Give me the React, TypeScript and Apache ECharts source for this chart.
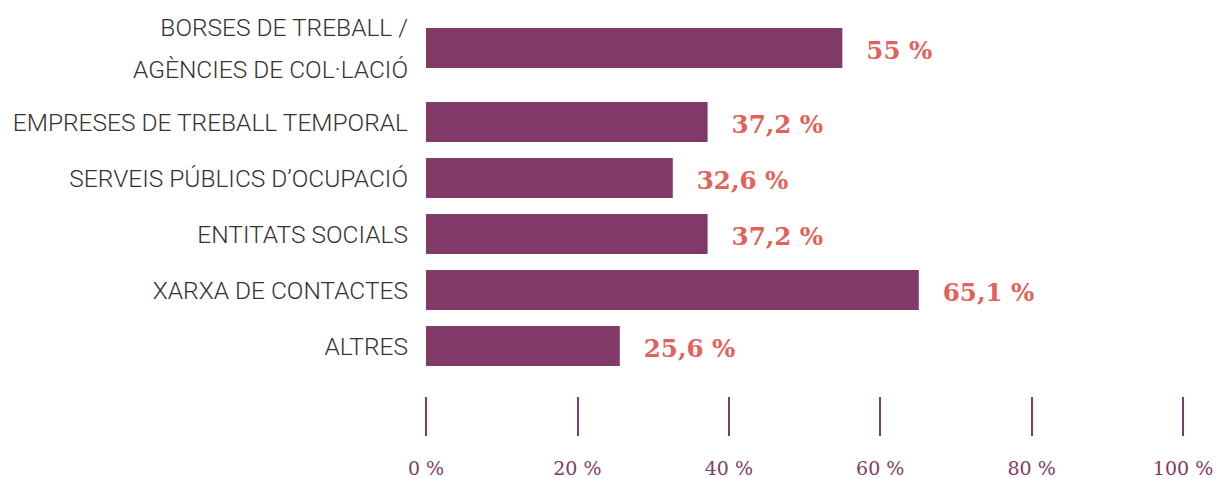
import React, { useEffect, useRef } from "react";
import * as echarts from "echarts";

const firstCategory = ["BORSES DE TREBALL /\nAGÈNCIES DE COL·LACIÓ"];
const firstValue = [55];
const categories = [
  "EMPRESES DE TREBALL TEMPORAL",
  "SERVEIS PÚBLICS D’OCUPACIÓ",
  "ENTITATS SOCIALS",
  "XARXA DE CONTACTES",
  "ALTRES",
];
const values = [37.2, 32.6, 37.2, 65.1, 25.6];
const axisMin = 0;
const axisMax = 100;
const axisStep = 20;

const BAR = "#823A68";
const LABEL = "#E2625B";
const TEXT = "#333333";
const fmt = (v: number) => String(v).replace(".", ",") + " %";

export default function App() {
  const ref = useRef<HTMLDivElement>(null);
  useEffect(() => {
    if (!ref.current) return;
    const chart = echarts.init(ref.current, undefined, { renderer: "svg" });
    const catLabel = {
      color: TEXT,
      fontFamily: "Roboto, 'Noto Sans', sans-serif",
      fontWeight: 300 as any,
      fontSize: 24.5,
      lineHeight: 42,
      margin: 18,
    };
    const valLabel = {
      show: true,
      position: "right" as const,
      distance: 24,
      offset: [0, 2],
      color: LABEL,
      fontFamily: "Georgia, 'DejaVu Serif', serif",
      fontWeight: "bold" as const,
      fontSize: 24.5,
      formatter: (p: any) => fmt(p.value),
    };
    chart.setOption({
      animation: false,
      grid: [
        { left: 426, width: 757, top: 20, height: 56 },
        { left: 426, width: 757, top: 94, height: 280 },
      ],
      xAxis: [
        { gridIndex: 0, type: "value", min: axisMin, max: axisMax, show: false },
        {
          gridIndex: 1,
          type: "value",
          min: axisMin,
          max: axisMax,
          interval: axisStep,
          offset: 23,
          axisLine: { show: false },
          splitLine: { show: false },
          axisTick: { show: true, length: 39, lineStyle: { color: BAR, width: 2 } },
          axisLabel: {
            margin: 61,
            color: BAR,
            fontFamily: "Georgia, 'DejaVu Serif', serif",
            fontSize: 19,
            formatter: (v: number) => v + " %",
          },
        },
      ],
      yAxis: [
        {
          gridIndex: 0,
          type: "category",
          data: firstCategory,
          axisLine: { show: false },
          axisTick: { show: false },
          axisLabel: catLabel,
        },
        {
          gridIndex: 1,
          type: "category",
          inverse: true,
          data: categories,
          axisLine: { show: false },
          axisTick: { show: false },
          axisLabel: catLabel,
        },
      ],
      series: [
        {
          type: "bar",
          xAxisIndex: 0,
          yAxisIndex: 0,
          data: firstValue,
          barWidth: 40,
          itemStyle: { color: BAR },
          label: valLabel,
        },
        {
          type: "bar",
          xAxisIndex: 1,
          yAxisIndex: 1,
          data: values,
          barWidth: 40,
          itemStyle: { color: BAR },
          label: valLabel,
        },
      ],
    });
    return () => chart.dispose();
  }, []);
  return <div ref={ref} style={{ width: 1219, height: 478, position: "absolute", left: 0, top: 0 }} />;
}
